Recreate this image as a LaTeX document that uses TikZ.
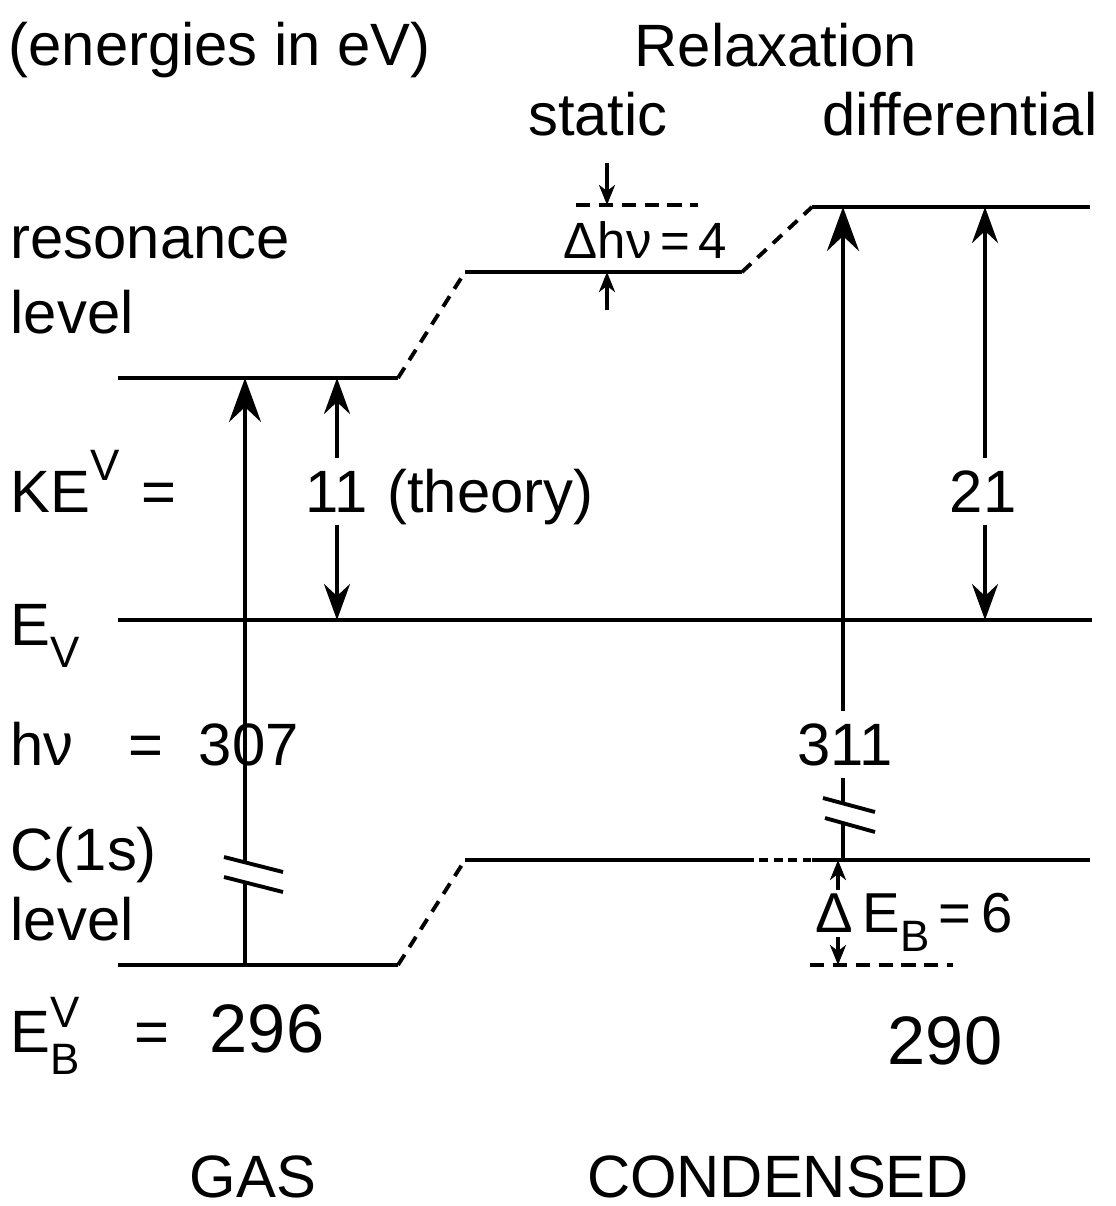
\documentclass[tikz,border=0pt]{standalone}
\usepackage{fontspec}
\setmainfont{Liberation Sans}
\usetikzlibrary{arrows.meta}
\usetikzlibrary{positioning}

\newcommand{\supV}[2][7pt]{\raisebox{#1}{\fontsize{12.5}{13}\selectfont #2}}
\newcommand{\subV}[2][-6.5pt]{\raisebox{#1}{\fontsize{12.5}{13}\selectfont #2}}

\begin{document}
\begin{tikzpicture}[x=0.01cm,y=-0.01cm,
  lev/.style={line width=1.4pt},
  slope/.style={line width=1.1pt,dash pattern=on 3.5pt off 2.5pt},
  guide/.style={line width=1pt,dash pattern=on 4pt off 2.5pt},
  tr/.style={line width=1.1pt},
  big/.style={tr,-{Stealth[length=4.4mm,width=3.2mm,inset=1.5mm]}},
  mid/.style={tr,-{Stealth[length=3.6mm,width=2.6mm,inset=1.2mm]}},
  small/.style={line width=0.9pt,-{Stealth[length=2mm,width=1.6mm,inset=0.6mm]}},
  txt/.style={inner sep=0pt,font=\fontsize{17}{20}\selectfont},
  num/.style={txt,inner sep=1.2mm,anchor=base},
]
\useasboundingbox (0,0) rectangle (1115,1206);

% level end points
\coordinate (gR-w) at (118,378);  \coordinate (gR-e) at (398,378);
\coordinate (sR-w) at (465,272);  \coordinate (sR-e) at (742,272);
\coordinate (cR-w) at (812,207);  \coordinate (cR-e) at (1090,207);
\coordinate (ev-w) at (118,620);  \coordinate (ev-e) at (1092,620);
\coordinate (gC-w) at (118,965);  \coordinate (gC-e) at (398,965);
\coordinate (sC-w) at (465,860);  \coordinate (sC-e) at (745,860);
\coordinate (cC-w) at (812,860);  \coordinate (cC-e) at (1090,860);
\coordinate (dh-w) at (576,205);  \coordinate (dh-e) at (698,205);
\coordinate (de-w) at (810,965);  \coordinate (de-e) at (953,965);
% arrow columns
\coordinate (colG) at (245,0);  \coordinate (colT) at (337,0);
\coordinate (colH) at (607,0);  \coordinate (colE) at (838,0);
\coordinate (colC) at (843,0);  \coordinate (colD) at (985,0);

% levels
\draw[lev] (gR-w) -- (gR-e);
\draw[lev] (sR-w) -- (sR-e);
\draw[lev] (cR-w) -- (cR-e);
\draw[lev] (ev-w) -- (ev-e);
\draw[lev] (gC-w) -- (gC-e);
\draw[lev] (sC-w) -- (sC-e);
\draw[lev] (cC-w) -- (cC-e);
\draw[slope] (gR-e) -- (sR-w);
\draw[slope] (sR-e) -- (cR-w);
\draw[slope] (gC-e) -- (sC-w);
\draw[guide,dash pattern=on 2.5pt off 1.6pt] (sC-e) -- (cC-w);
\draw[guide] (dh-w) -- (dh-e);
\draw[guide] (de-w) -- (de-e);

% labels
\node[txt,anchor=base west] (units) at (8,65) {(energies in eV)};
\node[txt,anchor=base] (relax) at (776,67) {Relaxation};
\node[txt,anchor=base] (static) at (598,135) {static};
\node[txt,anchor=base] (diff) at (960,135) {differential};
\node[txt,anchor=base west] (res1) at (10,258) {resonance};
\node[txt,anchor=base west] (res2) at (10,333) {level};
\node[txt,anchor=base west] (ke) at (10,512) {KE\supV[9pt]{V}\hspace{2.2mm}=};
\node[txt,anchor=base west] (evl) at (10,645) {E\subV{V}};
\node[txt,anchor=base west] (hv) at (10,765) {hν\hspace{5.5mm}=\hspace{3.5mm}307};
\node[txt,anchor=base west] (c1s1) at (10,870) {C(1s)};
\node[txt,anchor=base west] (c1s2) at (10,940) {level};
\node[txt,anchor=base west] (eb) at (10,1052) {E\rlap{\supV{V}}\subV{B}\hspace{5.5mm}=\hspace{4mm}{\fontsize{19.5}{20}\selectfont 296}};
\node[txt,anchor=base,font=\fontsize{19.5}{22}\selectfont] (eb2) at (945,1064) {290};
\node[txt,anchor=base] (gas) at (253,1197) {GAS};
\node[txt,anchor=base] (cond) at (778,1197) {CONDENSED};
\node[txt,anchor=base west,font=\fontsize{14.5}{16}\selectfont] (dhv) at (563,258) {Δhν\,=\,4};
\node[txt,anchor=base west,font=\fontsize{16}{18}\selectfont] (deb) at (815,932) {Δ\,E\subV[-5.5pt]{B}\,=\,6};

% gas photon
\draw[tr] (colG |- gC-w) -- ++(0,-83);
\draw[big] (colG |- gC-w) ++(0,-103) -- (colG |- gR-w);
\draw[tr] (224,857) -- (283,872);
\draw[tr] (224,877) -- (283,892);

% 11 (theory)
\node[num] (n11) at (337,512) {11};
\node[txt,base right=0.6mm of n11] (theory) {(theory)};
\draw[mid] (n11.north) -- (colT |- gR-w);
\draw[mid] (n11.south) -- (colT |- ev-w);

% condensed photon
\node[num] (n311) at (845,765) {311};
\draw[tr] (colC |- cC-w) -- ++(0,-37);
\draw[tr] (colC |- cC-w) ++(0,-57) -- (n311.south -| colC);
\draw[big] (n311.north -| colC) -- (colC |- cR-w);
\draw[tr] (823,798) -- (875,812);
\draw[tr] (825,818) -- (875,832);

% 21
\node[num] (n21) at (983,512) {21};
\draw[mid] (n21.north -| colD) -- (colD |- cR-w);
\draw[mid] (n21.south -| colD) -- (colD |- ev-w);

% shifts
\draw[small] (607,163) -- (colH |- dh-w);
\draw[small] (607,310) -- (colH |- sR-w);
\draw[small] (838,890) -- (colE |- cC-w);
\draw[small] (838,937) -- (colE |- de-w);
\end{tikzpicture}
\end{document}
